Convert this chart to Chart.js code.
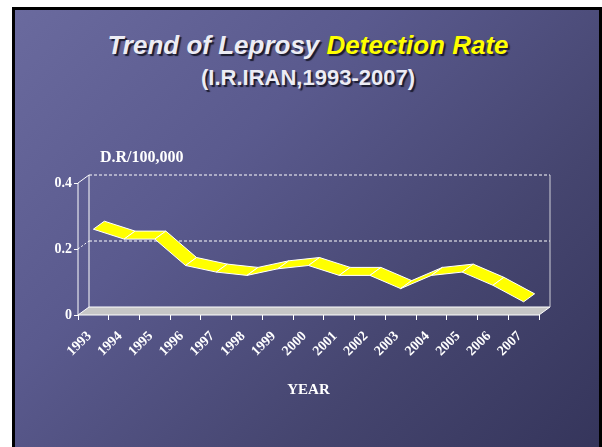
<!DOCTYPE html>
<html lang="en">
<head>
    <meta charset="UTF-8">
    <title>Trend of Leprosy Detection Rate</title>
    <script src="https://cdn.jsdelivr.net/npm/chart.js"></script>
    <style>
        body {
            margin: 0;
            background: #fff;
            width: 602px;
            height: 447px;
            overflow: hidden;
            position: relative;
        }
        .slide {
            position: absolute;
            left: 12px;
            top: 7px;
            width: 584px;
            height: 440px;
            border: 3px solid #000;
            border-bottom: none;
            background: linear-gradient(135deg, #6a6a9e 0%, #5a5a8e 35%, #45456f 70%, #35355b 100%);
        }
        .title {
            position: absolute;
            left: 0;
            width: 616px;
            text-align: center;
            font-family: "Liberation Sans", Arial, sans-serif;
            font-weight: bold;
            color: #ececf4;
            text-shadow: 2px 2px 1px #1c1c30;
            line-height: 1.15;
        }
        .main { top: 31px; font-size: 26px; font-style: italic; }
        .main span { color: #ffff00; }
        .sub { top: 65px; font-size: 22px; }
        .unit {
            position: absolute;
            left: 100px;
            top: 148px;
            font-family: "Liberation Serif", "Times New Roman", serif;
            font-weight: bold;
            font-size: 16px;
            color: #fff;
        }
        canvas { position: absolute; left: 0; top: 0; }
    </style>
</head>
<body>
    <div class="slide"></div>
    <div class="title main">Trend of Leprosy <span>Detection Rate</span></div>
    <div class="title sub">(I.R.IRAN,1993-2007)</div>
    <canvas id="chart" width="602" height="447"></canvas>
    <div class="unit">D.R/100,000</div>
    <script>
        // Detection rate per 100,000
        const years = ['1993', '1994', '1995', '1996', '1997', '1998', '1999', '2000',
                       '2001', '2002', '2003', '2004', '2005', '2006', '2007'];
        const rates = [0.26, 0.23, 0.23, 0.15, 0.13, 0.12, 0.14, 0.15,
                       0.12, 0.12, 0.08, 0.12, 0.13, 0.09, 0.04];
        const yTicks = [0, 0.2, 0.4];

        // depth of the fake 3D box, in pixels
        const depth = { x: 11, y: -8 };
        const serif = '"Liberation Serif", "Times New Roman", serif';

        const frame3d = {
            id: 'frame3d',
            beforeDatasetsDraw(chart) {
                const { ctx, chartArea: a, scales: { y } } = chart;
                const dx = depth.x, dy = depth.y;
                ctx.save();
                ctx.lineWidth = 1;

                // floor
                ctx.fillStyle = '#c6c6c6';
                ctx.beginPath();
                ctx.moveTo(a.left, a.bottom);
                ctx.lineTo(a.right, a.bottom);
                ctx.lineTo(a.right + dx, a.bottom + dy);
                ctx.lineTo(a.left + dx, a.bottom + dy);
                ctx.closePath();
                ctx.fill();
                ctx.strokeStyle = '#ffffff';
                ctx.stroke();

                // back wall grid lines + side diagonals
                yTicks.forEach(v => {
                    if (v === 0) return;
                    const py = y.getPixelForValue(v);
                    ctx.setLineDash([3, 2]);
                    ctx.beginPath();
                    ctx.moveTo(a.left + dx, py + dy);
                    ctx.lineTo(a.right + dx, py + dy);
                    ctx.stroke();
                    ctx.setLineDash(v === 0.4 ? [] : [2, 2]);
                    ctx.beginPath();
                    ctx.moveTo(a.left, py);
                    ctx.lineTo(a.left + dx, py + dy);
                    ctx.stroke();
                });
                ctx.setLineDash([]);

                // back wall verticals
                ctx.beginPath();
                ctx.moveTo(a.left + dx, a.top + dy);
                ctx.lineTo(a.left + dx, a.bottom + dy);
                ctx.stroke();
                ctx.strokeStyle = '#d0d0d8';
                ctx.beginPath();
                ctx.moveTo(a.right + dx, y.getPixelForValue(0.4) + dy);
                ctx.lineTo(a.right + dx, a.bottom + dy);
                ctx.stroke();

                // front y axis
                ctx.strokeStyle = '#ffffff';
                ctx.beginPath();
                ctx.moveTo(a.left, a.top);
                ctx.lineTo(a.left, a.bottom);
                ctx.stroke();
                ctx.restore();
            },
            afterDatasetsDraw(chart) {
                const { ctx } = chart;
                const pts = chart.getDatasetMeta(0).data;
                ctx.save();
                ctx.fillStyle = '#ffff00';
                ctx.strokeStyle = '#ffffff';
                ctx.lineWidth = 1;
                ctx.lineJoin = 'round';
                for (let i = 0; i < pts.length - 1; i++) {
                    const p = pts[i], q = pts[i + 1];
                    ctx.beginPath();
                    ctx.moveTo(p.x, p.y);
                    ctx.lineTo(q.x, q.y);
                    ctx.lineTo(q.x + depth.x, q.y + depth.y);
                    ctx.lineTo(p.x + depth.x, p.y + depth.y);
                    ctx.closePath();
                    ctx.fill();
                    ctx.stroke();
                }
                ctx.restore();
            }
        };

        new Chart(document.getElementById('chart'), {
            type: 'line',
            data: {
                labels: years,
                datasets: [{
                    label: 'D.R/100,000',
                    data: rates,
                    showLine: false,
                    pointRadius: 0,
                    pointHoverRadius: 0
                }]
            },
            options: {
                responsive: false,
                animation: false,
                layout: { padding: { top: 183, left: 0, right: 63, bottom: 0 } },
                plugins: {
                    legend: { display: false },
                    tooltip: { enabled: false }
                },
                scales: {
                    x: {
                        offset: true,
                        grid: { offset: true, drawOnChartArea: false, color: '#ffffff', tickLength: 5 },
                        border: { display: false },
                        ticks: {
                            color: '#ffffff',
                            font: { family: serif, size: 14, weight: 'bold' },
                            minRotation: 45,
                            maxRotation: 45,
                            padding: 8,
                            labelOffset: -4,
                            autoSkip: false
                        },
                        title: {
                            display: true,
                            text: 'YEAR',
                            color: '#ffffff',
                            font: { family: serif, size: 15, weight: 'bold' },
                            padding: { top: 0, bottom: 48 }
                        },
                        afterFit: s => { s.height = 132; }
                    },
                    y: {
                        min: 0,
                        max: 0.4,
                        afterBuildTicks: s => { s.ticks = yTicks.map(v => ({ value: v })); },
                        grid: { drawOnChartArea: false, color: '#ffffff', tickLength: 4 },
                        border: { display: false },
                        ticks: {
                            color: '#ffffff',
                            font: { family: serif, size: 14, weight: 'bold' },
                            padding: 2
                        },
                        afterFit: s => { s.width = 78; }
                    }
                }
            },
            plugins: [frame3d]
        });
    </script>
</body>
</html>
